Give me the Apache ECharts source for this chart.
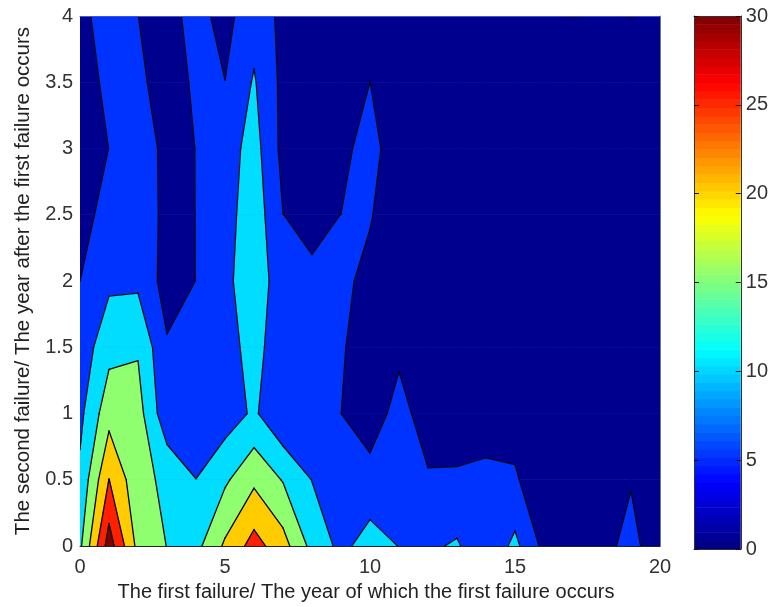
<!DOCTYPE html>
<html>
<head>
<meta charset="utf-8">
<style>html,body{margin:0;padding:0;background:#fff}#c{width:771px;height:607px}</style>
<script src="https://cdn.jsdelivr.net/npm/echarts@6/dist/echarts.min.js"></script>
</head>
<body>
<div id="c"></div>
<script>
var xValues = [0,1,2,3,4,5,6,7,8,9,10,11,12,13,14,15,16,17,18,19,20];
var yValues = [0,0.5,1,1.5,2,2.5,3,3.5,4];
// failure counts, one list per first-failure year, bottom to top
var zAtX0  = [14,11,8.8,7,5,3,2,3,4.4];
var zAtX1  = [32.5,25.1,18.2,13.4,9,7,5.05,6,6];
var zAtX2  = [18.5,16.5,17,14.5,9,8.5,7.5,5.7,5.02];
var zAtX3  = [14.9,14,6.5,5.5,3,3.5,3.8,3.5,3.5];
var zAtX4  = [13.5,10.05,7,6.5,5.05,5.05,5.05,5.5,6.5];
var zAtX5  = [20.8,14.2,7.4,7.3,8.4,8,7.65,5.05,3.5];
var zAtX6  = [27,19,10.8,12.5,14,13,12,10.5,8];
var zAtX7  = [22,14.7,5.5,5.56,6.3,5.02,3.6,3.7,3.8];
var zAtX8  = [13.5,9.9,7,6,5.4,4.4,1,0.5,0.5];
var zAtX9  = [8.7,7,5.02,5.6,6.5,5.02,3,0.5,0.5];
var zAtX10 = [12.2,6.7,2.5,2,3.2,5.5,8,5.02,0.5];
var zAtX11 = [9.9,7,6.7,4,1,0.5,0,0.5,0.5];
var zAtX12 = [9.2,5.5,2.75,1,0.5,0,0,0,0];
var zAtX13 = [10.6,5.5,3,1,0.5,0,0,0,0];
var zAtX14 = [6,6,3,1,0.5,0,0,0,0];
var zAtX15 = [11.3,5.6,3,1,0.5,0,0,0,0];
var zAtX16 = [3.7,1.6,1,0.5,0,0,0,0,4.9];
var zAtX17 = [2,0.5,0,0,0,0,0,0,5.1];
var zAtX18 = [4,2,0.5,0,0,0,0,0,4.9];
var zAtX19 = [6,4.8,1,0,0,0,0,0,5.1];
var zAtX20 = [3,1,0,0,0,0,0,0,4.7];
var zColumns = [zAtX0,zAtX1,zAtX2,zAtX3,zAtX4,zAtX5,zAtX6,zAtX7,zAtX8,zAtX9,zAtX10,zAtX11,zAtX12,zAtX13,zAtX14,zAtX15,zAtX16,zAtX17,zAtX18,zAtX19,zAtX20];
var contourLevels = [-1,5,10,15,20,25,30];
var levelColors = ['#00008F','#0033FF','#00DDFF','#8FFF70','#FFCC00','#FF2000','#800000'];
var colorbarMax = 30;
var colorbarBands = 64;
var AXIS_FONT = 'Liberation Sans, Arial, sans-serif';

function jet(t){
  function c(v){return Math.round(255*Math.max(0,Math.min(1,v)));}
  var r=c(1.5-Math.abs(4*t-3)), g=c(1.5-Math.abs(4*t-2)), b=c(1.5-Math.abs(4*t-1));
  return 'rgb('+r+','+g+','+b+')';
}

function lerp(a,b,L){
  var f=(L-a[2])/(b[2]-a[2]);
  return [a[0]+(b[0]-a[0])*f,a[1]+(b[1]-a[1])*f,L];
}
function clipCell(q,L){
  var out=[];
  for(var i=0;i<q.length;i++){
    var a=q[i],b=q[(i+1)%q.length],ia=a[2]>=L,ib=b[2]>=L;
    if(ia)out.push(a);
    if(ia!==ib)out.push(lerp(a,b,L));
  }
  return out;
}
function crossings(q,L){
  var out=[];
  for(var i=0;i<q.length;i++){
    var a=q[i],b=q[(i+1)%q.length];
    if((a[2]>=L)!==(b[2]>=L))out.push(lerp(a,b,L));
  }
  return out;
}
var polys=[],segs=[];
contourLevels.forEach(function(L,li){
  for(var i=0;i<xValues.length-1;i++){
    for(var j=0;j<yValues.length-1;j++){
      var q=[[xValues[i],yValues[j],zColumns[i][j]],
             [xValues[i+1],yValues[j],zColumns[i+1][j]],
             [xValues[i+1],yValues[j+1],zColumns[i+1][j+1]],
             [xValues[i],yValues[j+1],zColumns[i][j+1]]];
      var p=clipCell(q,L);
      if(p.length>2)polys.push({level:li,pts:p});
      if(li>0){
        var c=crossings(q,L);
        if(c.length===2)segs.push([c[0],c[1]]);
        else if(c.length===4){segs.push([c[0],c[1]]);segs.push([c[2],c[3]]);}
      }
    }
  }
});

var chart=echarts.init(document.getElementById('c'),null,{renderer:'canvas'});
var tickText={color:'#333',fontFamily:AXIS_FONT,fontSize:20};
chart.setOption({
  animation:false,
  backgroundColor:'#fff',
  grid:[
    {left:80,top:16,width:580,height:533,show:false},
    {left:694,top:16,width:50,height:533,show:false}
  ],
  xAxis:[
    {gridIndex:0,type:'value',min:0,max:20,interval:5,position:'bottom',z:6,
     name:'The first failure/ The year of which the first failure occurs',
     nameLocation:'middle',nameGap:35,
     nameTextStyle:{color:'#222',fontFamily:AXIS_FONT,fontSize:20,padding:[0,8,0,0]},
     axisLine:{show:true,onZero:false,lineStyle:{color:'#222',width:1}},
     axisTick:{show:false},splitLine:{show:false},
     axisLabel:Object.assign({margin:11},tickText)},
    {gridIndex:0,type:'value',min:0,max:20,position:'top',z:6,
     axisLine:{show:true,onZero:false,lineStyle:{color:'#3F55D8',width:1}},
     axisTick:{show:false},axisLabel:{show:false},splitLine:{show:false}},
    {gridIndex:1,type:'value',min:0,max:1,position:'bottom',z:6,
     axisLine:{show:true,onZero:false,lineStyle:{color:'#333',width:1}},
     axisTick:{show:false},axisLabel:{show:false},splitLine:{show:false}},
    {gridIndex:1,type:'value',min:0,max:1,position:'top',z:6,
     axisLine:{show:true,onZero:false,lineStyle:{color:'#333',width:1}},
     axisTick:{show:false},axisLabel:{show:false},splitLine:{show:false}}
  ],
  yAxis:[
    {gridIndex:0,type:'value',min:0,max:4,interval:0.5,position:'left',
     name:'The second failure/ The year after the first failure occurs',
     nameLocation:'middle',nameGap:46,
     nameTextStyle:{color:'#222',fontFamily:AXIS_FONT,fontSize:20.5},
     axisLine:{show:false},axisTick:{show:false},splitLine:{show:false},
     axisLabel:Object.assign({margin:7},tickText)},
    {gridIndex:0,type:'value',min:0,max:4,position:'right',z:6,
     axisLine:{show:true,onZero:false,lineStyle:{color:'#777',width:1}},
     axisTick:{show:false},axisLabel:{show:false},splitLine:{show:false}},
    {gridIndex:1,type:'value',min:0,max:colorbarMax,interval:5,position:'right',z:6,
     axisLine:{show:true,onZero:false,lineStyle:{color:'#333',width:1}},
     axisTick:{show:true,inside:true,length:5,lineStyle:{color:'#111'}},
     splitLine:{show:false},
     axisLabel:Object.assign({margin:5},tickText)},
    {gridIndex:1,type:'value',min:0,max:colorbarMax,interval:5,position:'left',z:6,
     axisLine:{show:true,onZero:false,lineStyle:{color:'#333',width:1}},
     axisTick:{show:true,inside:true,length:5,lineStyle:{color:'#111'}},
     axisLabel:{show:false},splitLine:{show:false}}
  ],
  series:[
    {type:'custom',xAxisIndex:0,yAxisIndex:0,clip:true,silent:true,z:1,
     data:polys.map(function(p){return [p.pts[0][0],p.pts[0][1]];}),
     renderItem:function(params,api){
       var p=polys[params.dataIndex],col=levelColors[p.level];
       return {type:'polygon',
         shape:{points:p.pts.map(function(v){return api.coord([v[0],v[1]]);})},
         style:{fill:col,stroke:col,lineWidth:0.7}};
     }},
    {type:'custom',xAxisIndex:0,yAxisIndex:0,clip:true,silent:true,z:2,
     data:segs.map(function(s){return [s[0][0],s[0][1]];}),
     renderItem:function(params,api){
       var s=segs[params.dataIndex],a=api.coord([s[0][0],s[0][1]]),b=api.coord([s[1][0],s[1][1]]);
       return {type:'line',shape:{x1:a[0],y1:a[1],x2:b[0],y2:b[1]},
         style:{stroke:'#050510',lineWidth:1.3,lineCap:'round'}};
     }},
    {type:'custom',xAxisIndex:2,yAxisIndex:2,clip:true,silent:true,z:1,
     data:Array.from({length:colorbarBands},function(_,i){return [0,i*colorbarMax/colorbarBands];}),
     renderItem:function(params,api){
       var i=params.dataIndex,step=colorbarMax/colorbarBands;
       var a=api.coord([0,(i+1)*step]),b=api.coord([1,i*step]);
       return {type:'rect',shape:{x:a[0],y:a[1],width:b[0]-a[0],height:b[1]-a[1]+0.5},
         style:{fill:jet((i+0.5)/colorbarBands)}};
     }}
  ]
});
</script>
</body>
</html>
